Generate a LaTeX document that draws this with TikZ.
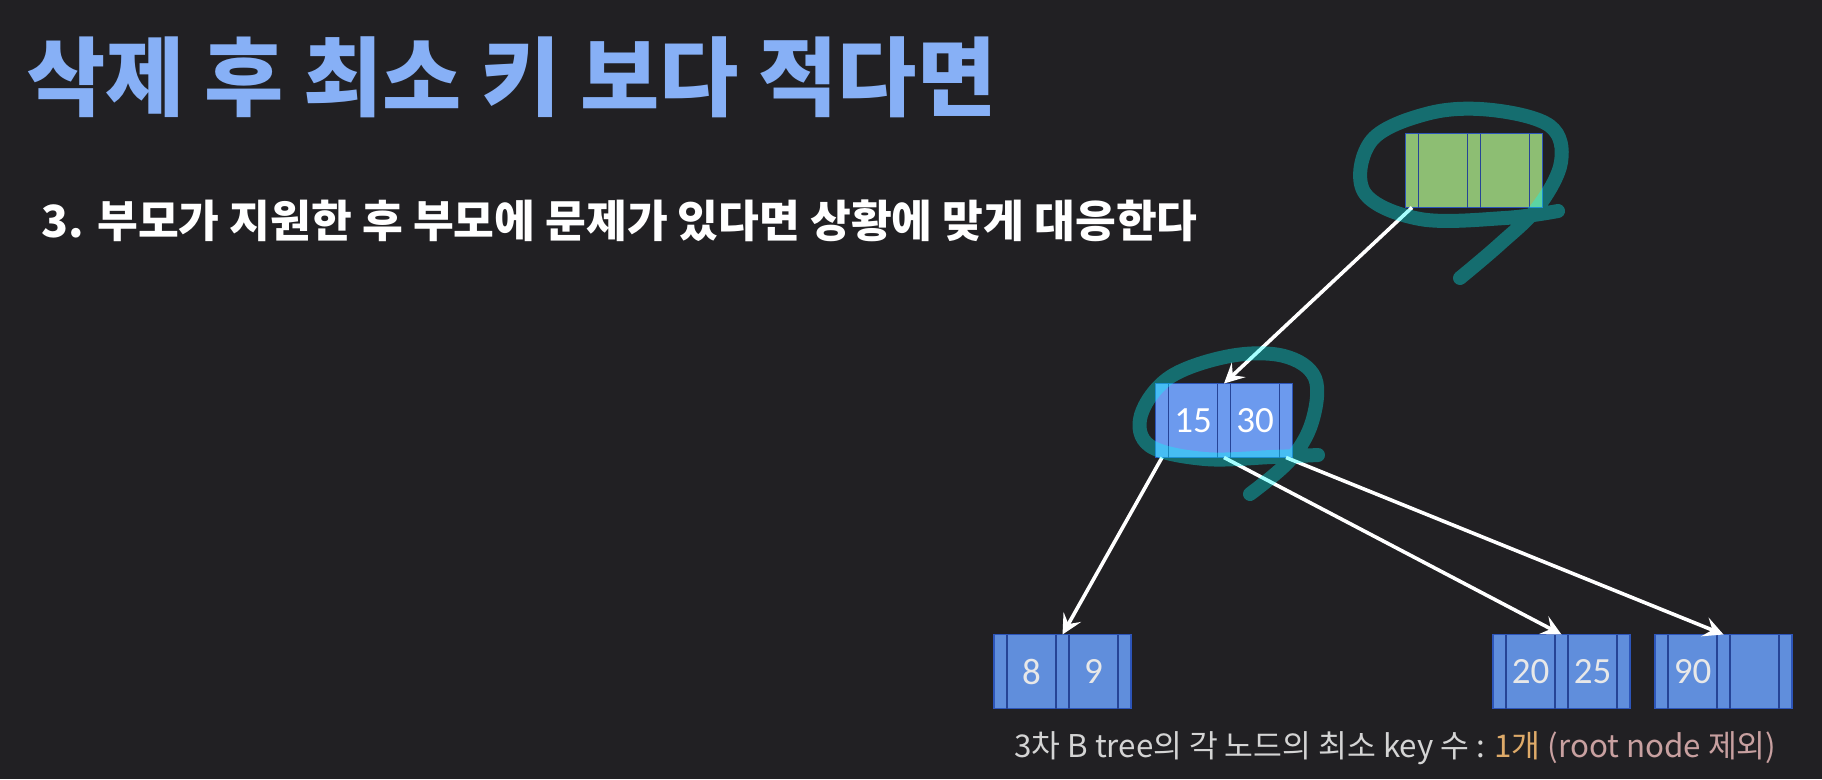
\documentclass[tikz,border=0pt]{standalone}
\usepackage{fontspec}
\usetikzlibrary{calc,arrows.meta}
\newfontfamily\kr{Noto Sans CJK KR}
\newfontfamily\numf{Carlito}
\definecolor{bgc}{RGB}{33,32,35}
\definecolor{titlec}{RGB}{135,176,246}
\definecolor{leafc}{RGB}{96,142,220}
\definecolor{midc}{RGB}{108,154,238}
\definecolor{rootc}{RGB}{141,190,115}
\definecolor{borderc}{RGB}{45,85,185}
\definecolor{divc}{RGB}{38,68,150}
\definecolor{notec}{RGB}{0,255,255}
\definecolor{graytxt}{RGB}{212,212,212}
\definecolor{tanc}{RGB}{222,170,105}
\definecolor{pinkc}{RGB}{200,160,160}
\definecolor{keyc}{RGB}{232,232,232}
\tikzset{
  btbox/.style={draw=borderc, line width=1.8pt, minimum width=137pt, minimum height=74pt, inner sep=0pt, outer sep=0pt},
  divline/.style={draw=divc, line width=1.8pt},
  keytxt/.style={text=keyc, font=\numf\fontsize{37}{40}\selectfont, inner sep=0pt},
  ptr/.style={draw=white, line width=3.6pt, -{Stealth[length=20pt,width=20pt,inset=8pt]}},
  note/.style={draw=notec, draw opacity=0.35, line width=14pt, line cap=round, line join=round},
}
\newcommand\btreenode[6]{%
  \node[btbox, fill=#4] (#1) at (#2,#3) {};
  \foreach \dx in {13,62,75,124}
    \draw[divline] ($(#1.north west)+(\dx,0)$) -- ($(#1.south west)+(\dx,0)$);
  \node[keytxt] (#1-ka) at ($(#1.west)+(37.5,0)$) {#5};
  \node[keytxt] (#1-kb) at ($(#1.west)+(99.5,0)$) {#6};
  \coordinate (#1-p0) at ($(#1.south west)+(6.5,0)$);
  \coordinate (#1-p1) at ($(#1.south west)+(68.5,0)$);
  \coordinate (#1-p2) at ($(#1.south west)+(130.5,0)$);
  \coordinate (#1-top) at ($(#1.north west)+(68.5,0)$);
}
\begin{document}
\begin{tikzpicture}[x=1pt,y=-1pt]
\fill[bgc] (0,0) rectangle (1822,779);
\useasboundingbox (0,0) rectangle (1822,779);
% title
\node[anchor=west, inner sep=0pt, text=titlec] (title) at (26,77)
  {\resizebox{970pt}{!}{\kr\bfseries 삭제 후 최소 키 보다 적다면}};
% subtitle
\node[anchor=west, inner sep=0pt, text=white] (sub) at (41,221)
  {\resizebox{1156pt}{!}{\kr\bfseries 3. 부모가 지원한 후 부모에 문제가 있다면 상황에 맞게 대응한다}};
% bottom note
\node[anchor=west, inner sep=0pt] (foot) at (1014,748)
  {\resizebox{762pt}{!}{\kr\color{graytxt}3차 B tree의 각 노드의 최소 key 수 : \color{tanc}1개 \color{pinkc}(root node 제외)}};
% nodes
\btreenode{root}{1474}{170.5}{rootc}{}{}
\btreenode{mid}{1224}{420.5}{midc}{\color{white}15}{\color{white}30}
\btreenode{la}{1062.5}{671.5}{leafc}{8}{9}
\btreenode{lb}{1561.5}{671.5}{leafc}{20}{25}
\btreenode{lc}{1723.5}{671.5}{leafc}{90}{}
% connectors
\draw[ptr] (root-p0) -- (mid-top);
\draw[ptr] (mid-p0) -- (la-top);
\draw[ptr] (mid-p1) -- (lb-top);
\draw[ptr] (mid-p2) -- (lc-top);
% hand-drawn annotations
\draw[note] plot[smooth, tension=0.6] coordinates {(1558,211) (1505,218) (1420,219) (1364,192) (1372,140) (1430,113) (1492,110) (1550,126) (1561,162) (1538,207) (1500,244) (1460,278)};
\draw[note] plot[smooth, tension=0.6] coordinates {(1318,455) (1272,457) (1205,459) (1150,446) (1141,415) (1170,377) (1230,356) (1284,356) (1315,378) (1312,422) (1290,460) (1250,494)};
\end{tikzpicture}
\end{document}
